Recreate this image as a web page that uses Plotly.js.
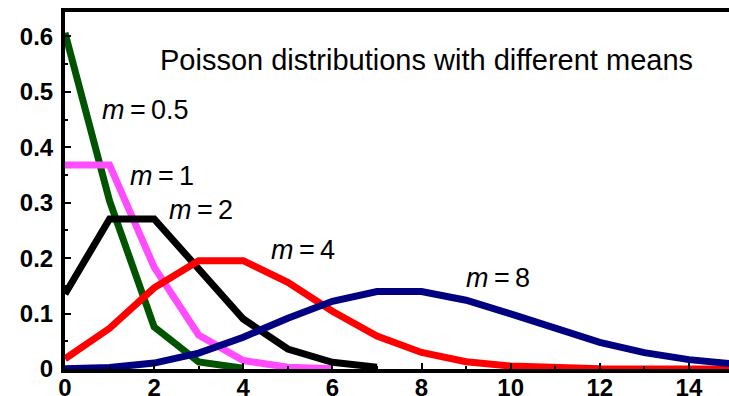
<!DOCTYPE html>
<html>
<head>
<meta charset="utf-8">
<script src="https://cdn.plot.ly/plotly-3.0.1.min.js"></script>
<style>
  html, body { margin: 0; padding: 0; background: #ffffff; }
  #chart { width: 729px; height: 396px; }
</style>
</head>
<body>
<div id="chart"></div>
<script>
// Poisson probabilities P(k) for several means, k = 0, 1, 2, ...
const kValues = [0, 1, 2, 3, 4, 5, 6, 7, 8, 9, 10, 11, 12, 13, 14, 15];

const pMean05 = [0.6065, 0.3033, 0.0758, 0.0126, 0.0016];
const pMean1  = [0.3679, 0.3679, 0.1839, 0.0613, 0.0153, 0.0031, 0.0005];
const pMean2  = [0.1353, 0.2707, 0.2707, 0.1804, 0.0902, 0.0361, 0.0120, 0.0034];
const pMean4  = [0.0183, 0.0733, 0.1465, 0.1954, 0.1954, 0.1563, 0.1042, 0.0595,
                 0.0298, 0.0132, 0.0053, 0.0019, 0.0006, 0.0002, 0.0001, 0.0000];
const pMean8  = [0.0003, 0.0027, 0.0107, 0.0286, 0.0573, 0.0916, 0.1221, 0.1396,
                 0.1396, 0.1241, 0.0993, 0.0722, 0.0481, 0.0296, 0.0169, 0.0090];

const seriesNames = ['m = 0.5', 'm = 1', 'm = 2', 'm = 4', 'm = 8'];
const seriesData  = [pMean05, pMean1, pMean2, pMean4, pMean8];
const seriesColors = ['#005400', '#ff4cff', '#000000', '#ff0000', '#000080'];

// Curve labels: text and the (k, P) spot where each sits
const labelText = ['<i>m</i>\u2009=\u20090.5', '<i>m</i>\u2009=\u20091', '<i>m</i>\u2009=\u20092',
                   '<i>m</i>\u2009=\u20094', '<i>m</i>\u2009=\u20098'];
const labelK = [0.78, 1.42, 2.29, 4.58, 8.96];
const labelP = [0.467, 0.348, 0.287, 0.214, 0.165];

const yTickVals = [0, 0.1, 0.2, 0.3, 0.4, 0.5, 0.6];
const yTickText = ['0', '0.1', '0.2', '0.3', '0.4', '0.5', '0.6'];
const xTickVals = [0, 2, 4, 6, 8, 10, 12, 14];
const xTickText = ['0', '2', '4', '6', '8', '10', '12', '14'];

const traces = seriesData.map((vals, i) => ({
  type: 'scatter',
  mode: 'lines',
  name: seriesNames[i],
  x: kValues.slice(0, vals.length),
  y: vals,
  line: { color: seriesColors[i], width: 7 },
  hoverinfo: 'skip'
}));

const tickFont = { family: 'Liberation Sans, Arial, sans-serif', size: 24, color: '#000000', weight: 'bold' };

const annotations = labelText.map((t, i) => ({
  text: t,
  x: labelK[i], y: labelP[i],
  xref: 'x', yref: 'y',
  xanchor: 'left', yanchor: 'middle',
  showarrow: false,
  font: { family: 'Liberation Sans, Arial, sans-serif', size: 27, color: '#000000' }
}));

const layout = {
  width: 729,
  height: 396,
  margin: { l: 65, r: 0, t: 12, b: 27, pad: 0 },
  paper_bgcolor: '#ffffff',
  plot_bgcolor: '#ffffff',
  showlegend: false,
  title: {
    text: 'Poisson distributions with different means',
    x: 160 / 729, xref: 'container', xanchor: 'left',
    y: 1 - 60 / 396, yref: 'container', yanchor: 'middle',
    font: { family: 'Liberation Sans, Arial, sans-serif', size: 29, color: '#000000' }
  },
  xaxis: {
    range: [0, 14.9],
    showgrid: false, zeroline: false,
    showline: true, linecolor: '#000000', linewidth: 4, mirror: true,
    ticks: 'inside', ticklen: 6, tickwidth: 2, tickcolor: '#000000',
    tickvals: xTickVals, ticktext: xTickText,
    tickfont: tickFont,
    ticklabelstandoff: -6,
    minor: { ticks: 'inside', ticklen: 3, tickwidth: 2, tickcolor: '#000000', dtick: 1, tick0: 0, showgrid: false }
  },
  yaxis: {
    range: [0, 0.644],
    showgrid: false, zeroline: false,
    showline: true, linecolor: '#000000', linewidth: 4,
    ticks: 'inside', ticklen: 6, tickwidth: 2, tickcolor: '#000000',
    tickvals: yTickVals, ticktext: yTickText,
    tickfont: tickFont,
    ticklabelstandoff: 3,
    minor: { ticks: 'inside', ticklen: 3, tickwidth: 2, tickcolor: '#000000', dtick: 0.05, tick0: 0, showgrid: false }
  },
  annotations: annotations
};

Plotly.newPlot('chart', traces, layout, { staticPlot: true, displayModeBar: false });
</script>
</body>
</html>
